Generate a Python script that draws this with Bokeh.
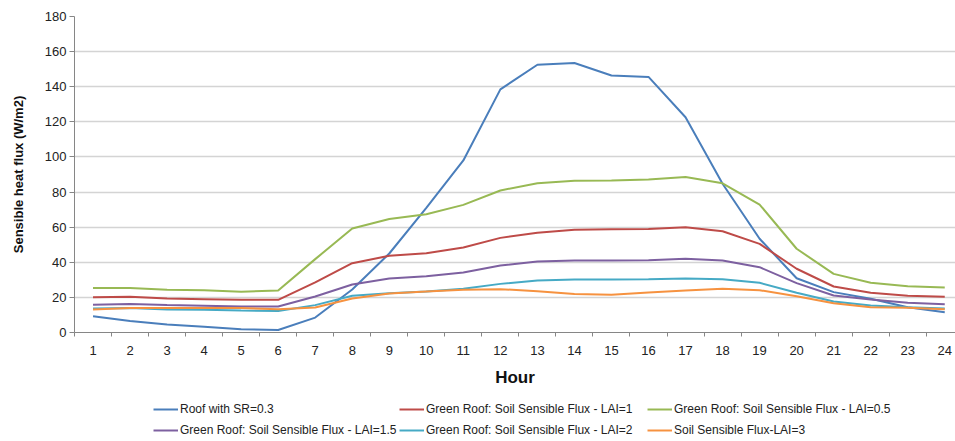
from bokeh.plotting import figure
from bokeh.layouts import column
from bokeh.models import Range1d, FixedTicker, Legend, LegendItem
from bokeh.embed import file_html
from bokeh.resources import INLINE

hours = list(range(1, 25))
roof_sr03 = [9.3, 6.5, 4.6, 3.3, 1.8, 1.4, 8.5, 24.5, 45.0, 71.0, 98.0, 138.5, 152.5, 153.5, 146.4, 145.6, 122.6, 84.7, 53.4, 30.9, 23.0, 19.2, 14.4, 11.6]
lai_1 = [20.1, 20.3, 19.4, 19.0, 18.6, 18.6, 28.5, 39.5, 43.7, 45.2, 48.4, 53.9, 56.8, 58.5, 58.8, 59.0, 60.0, 57.7, 50.5, 36.3, 26.2, 22.6, 20.9, 20.3]
lai_05 = [25.3, 25.4, 24.3, 24.1, 23.2, 23.9, 41.8, 59.2, 64.6, 67.4, 72.7, 80.9, 85.0, 86.4, 86.6, 87.1, 88.6, 85.0, 72.9, 47.7, 33.4, 28.3, 26.4, 25.6]
lai_15 = [15.8, 16.3, 15.6, 15.2, 14.8, 14.8, 20.5, 27.3, 30.8, 32.1, 34.2, 38.2, 40.4, 41.0, 41.0, 41.1, 42.0, 41.0, 37.2, 28.1, 21.1, 18.8, 16.9, 16.1]
lai_2 = [13.7, 13.9, 13.1, 12.9, 12.5, 12.2, 15.6, 20.9, 22.4, 23.4, 24.9, 27.7, 29.6, 30.2, 30.2, 30.4, 30.8, 30.4, 28.3, 22.6, 17.7, 15.4, 14.4, 13.7]
lai_3 = [13.1, 14.0, 13.9, 13.9, 13.9, 13.3, 14.2, 19.4, 22.2, 23.4, 24.3, 24.7, 23.5, 22.0, 21.5, 22.8, 23.9, 24.9, 24.1, 20.7, 16.7, 14.4, 14.1, 13.3]

series = [
    ("Roof with SR=0.3", roof_sr03, "#4A7EBB"),
    ("Green Roof: Soil Sensible Flux - LAI=1", lai_1, "#BE4B48"),
    ("Green Roof: Soil Sensible Flux - LAI=0.5", lai_05, "#98B954"),
    ("Green Roof: Soil Sensible Flux - LAI=1.5", lai_15, "#7D60A0"),
    ("Green Roof: Soil Sensible Flux - LAI=2", lai_2, "#46AAC5"),
    ("Soil Sensible Flux-LAI=3", lai_3, "#F69240"),
]
y_ticks = list(range(0, 181, 20))

FONT = "'Liberation Sans', Arial, sans-serif"

p = figure(width=955, height=392, output_backend="svg", toolbar_location=None,
           x_range=Range1d(0.5, 24.29), y_range=Range1d(0, 180),
           min_border_left=74, min_border_top=16, min_border_right=0, min_border_bottom=60)
p.outline_line_color = None

for name, vals, col in series:
    p.line(hours, vals, line_color=col, line_width=2)

xa = p.xaxis[0]
xa.ticker = FixedTicker(ticks=hours, minor_ticks=[h - 0.5 for h in hours] + [24.5])
xa.major_tick_line_color = None
xa.minor_tick_out = 4
xa.minor_tick_in = 0
xa.minor_tick_line_color = "#868686"
xa.axis_line_color = "#868686"
xa.major_label_text_font = FONT
xa.major_label_text_font_size = "13px"
xa.major_label_text_color = "#222222"
xa.major_label_standoff = 7
xa.axis_label = "Hour"
xa.axis_label_text_font = FONT
xa.axis_label_text_font_style = "bold"
xa.axis_label_text_font_size = "17px"
xa.axis_label_text_color = "#111111"
xa.axis_label_standoff = 10

ya = p.yaxis[0]
ya.ticker = FixedTicker(ticks=y_ticks)
ya.minor_tick_line_color = None
ya.major_tick_out = 5
ya.major_tick_in = 0
ya.major_tick_line_color = "#868686"
ya.axis_line_color = "#868686"
ya.major_label_text_font = FONT
ya.major_label_text_font_size = "13px"
ya.major_label_text_color = "#222222"
ya.major_label_standoff = 3
ya.axis_label = "Sensible heat flux (W/m2)"
ya.axis_label_text_font = FONT
ya.axis_label_text_font_style = "bold"
ya.axis_label_text_font_size = "13px"
ya.axis_label_text_color = "#111111"
ya.axis_label_standoff = 16

p.xgrid.grid_line_color = None
p.ygrid.ticker = FixedTicker(ticks=y_ticks[1:])
p.ygrid.grid_line_color = "#D4D4D4"
p.ygrid.grid_line_width = 1.5

# legend strip below the chart
lf = figure(width=955, height=49, output_backend="svg", toolbar_location=None,
            x_range=Range1d(100, 200), y_range=Range1d(100, 200),
            min_border_left=0, min_border_right=0, min_border_top=0, min_border_bottom=0)
lf.axis.visible = False
lf.grid.visible = False
lf.outline_line_color = None

legend_pos = [(79, 25), (325, 25), (573, 25), (79, 4), (325, 4), (573, 4)]
for (name, vals, col), loc in zip(series, legend_pos):
    r = lf.line(hours, vals, line_color=col, line_width=2)
    lg = Legend(items=[LegendItem(label=name, renderers=[r])], location=loc,
                orientation="horizontal", background_fill_alpha=0, border_line_color=None,
                padding=0, margin=0, spacing=0, glyph_width=25, glyph_height=12,
                label_height=12, label_standoff=2,
                label_text_font=FONT, label_text_font_size="12px", label_text_color="#222222")
    lf.add_layout(lg, "center")

open("out.html", "w").write(file_html(column(p, lf, spacing=0), INLINE))
